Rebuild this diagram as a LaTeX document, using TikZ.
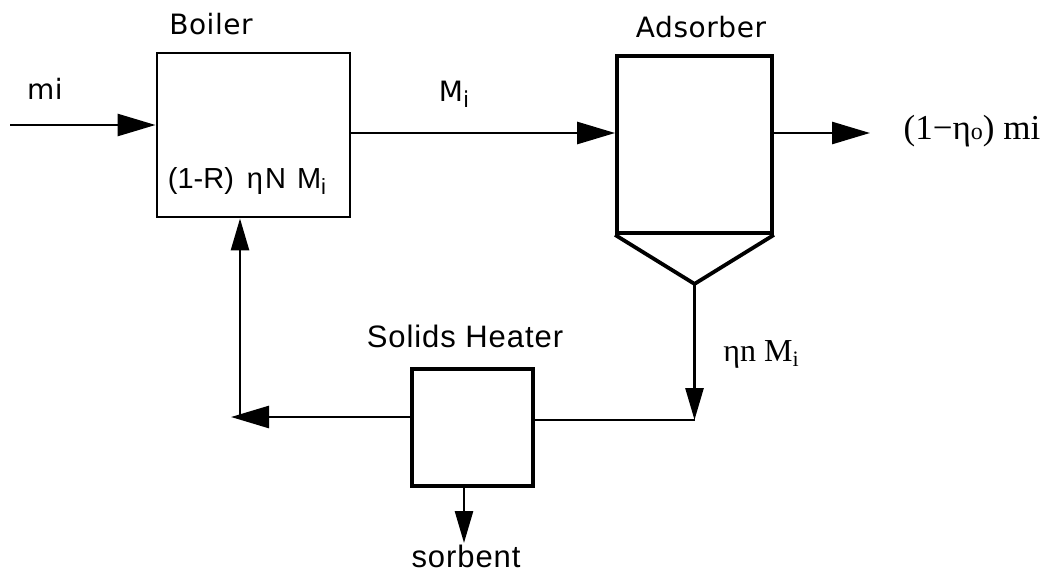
\documentclass[tikz,border=0pt]{standalone}
\usepackage{fontspec}
\setmainfont{Liberation Sans}
\newfontfamily\hvfont[LetterSpace=2]{DejaVu Sans}
\newfontfamily\gsfont[LetterSpace=3]{Liberation Sans}
\newfontfamily\serfont{Liberation Serif}
\usetikzlibrary{arrows.meta}
\newcommand\lowsub[1]{\raisebox{-0.4ex}{\fontsize{22}{22}\selectfont #1}}
\newcommand\smallsub[1]{{\fontsize{24}{24}\selectfont #1}}
\tikzset{
  unit/.style={draw, line width=3.2pt, inner sep=0pt},
  flow/.style={line width=2.7pt, -{Triangle[length=38pt,width=22pt]}},
  flowv/.style={line width=2.7pt, -{Triangle[length=32pt,width=18pt]}},
  plainflow/.style={line width=2.7pt},
  lbl/.style={font=\hvfont\fontsize{28}{32}\selectfont, inner sep=0pt},
  inlbl/.style={font=\fontsize{29}{31}\selectfont, inner sep=0pt},
  gslbl/.style={font=\gsfont\fontsize{31}{34}\selectfont, inner sep=0pt},
  slbl/.style={font=\serfont\fontsize{35}{38}\selectfont, inner sep=0pt},
  slbltwo/.style={font=\serfont\fontsize{32}{34}\selectfont, inner sep=0pt}
}
\begin{document}
\begin{tikzpicture}[x=1pt,y=-1pt]
\useasboundingbox (0,0) rectangle (1051,575);
% units
\node[unit, line width=2.9pt, minimum width=193pt, minimum height=164pt] (boiler) at (253.5,135) {};
\node[unit, line width=3.8pt, minimum width=155pt, minimum height=177pt] (ads) at (694.5,144.5) {};
\node[unit, minimum width=121pt, minimum height=117pt] (heater) at (472.5,427.5) {};
\coordinate (apex) at ([yshift=-49pt]ads.south);
\draw[line width=3.8pt, line join=miter] (ads.south west) -- (apex) -- (ads.south east);
% coordinates
\coordinate (in) at (10,125);
\coordinate (mrow) at (0,133);
\coordinate (out) at (870,133);
\coordinate (junc) at (apex |- 0,420);
\coordinate (corner) at (240,417);
\coordinate (lefttip) at (231,417);
\coordinate (sorb) at (464,543);
% connectors
\draw[flow] (in) -- (in -| boiler.west);
\draw[flow] (boiler.east |- mrow) -- (ads.west |- mrow);
\draw[flow] (ads.east |- mrow) -- (out);
\draw[flowv] (apex) -- (junc);
\draw[plainflow] (junc) -- (heater.east |- junc);
\draw[flow] (heater.west |- corner) -- (lefttip);
\draw[flowv] (corner) -- (corner |- boiler.south);
\draw[flowv] (sorb |- heater.south) -- (sorb);
% labels
\node[lbl] (lboiler) at (211,24) {Boiler};
\node[lbl] (lmi) at (45,89) {mi};
\node[lbl] (lMi) at (454,94) {M\lowsub{i}};
\node[lbl] (lads) at (701,27) {Adsorber};
\node[slbl] (lout) at (972,131) {(1−η\smallsub{o}) mi};
\node[inlbl] (lrec) at (247,181) {(1-R)\hspace{13pt}η\hspace{2pt}N\hspace{11pt}M\lowsub{i}};
\node[slbltwo] (leta) at (761,354) {ηn M\lowsub{i}};
\node[gslbl] (lheat) at (465,336) {Solids Heater};
\node[gslbl] (lsorb) at (466,556) {sorbent};
\end{tikzpicture}
\end{document}
